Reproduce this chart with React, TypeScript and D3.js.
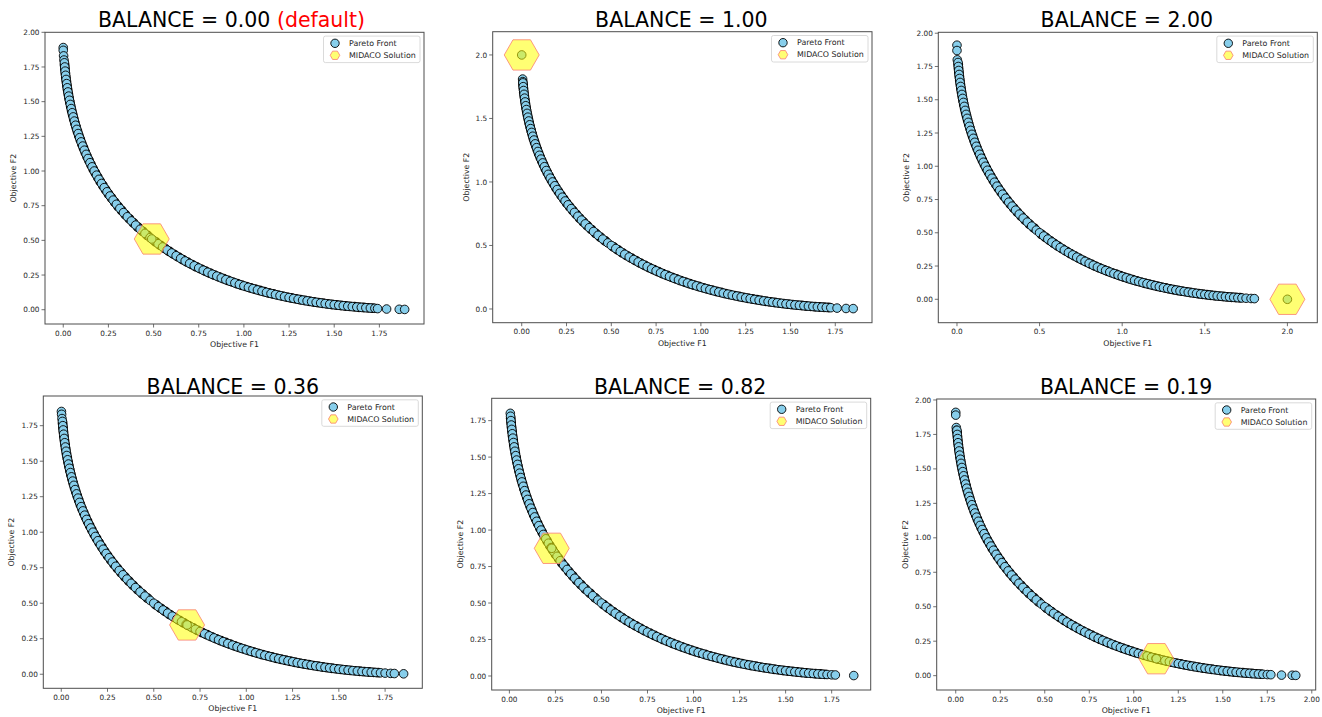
import React from "react";
import * as d3 from "d3";

// ---- Data ----
// Shared body of the Pareto front (Objective F1, Objective F2)
const frontSteep: [number, number][] = [
  [0.00641, 1.78], [0.00834, 1.75], [0.01055, 1.72], [0.01304, 1.69], [0.01583, 1.66],
  [0.01891, 1.63], [0.02229, 1.60], [0.02599, 1.57], [0.03001, 1.54], [0.03437, 1.51],
  [0.03907, 1.48], [0.04412, 1.45], [0.04954, 1.42], [0.05533, 1.39], [0.06151, 1.36],
  [0.0681, 1.33], [0.07509, 1.30], [0.08253, 1.27], [0.0904, 1.24], [0.09873, 1.21],
  [0.10754, 1.18], [0.11685, 1.15], [0.12667, 1.12], [0.13703, 1.09], [0.14796, 1.06],
  [0.15946, 1.03], [0.17157, 1.00], [0.18431, 0.97], [0.19773, 0.94], [0.21185, 0.91],
  [0.2267, 0.88], [0.24232, 0.85], [0.25875, 0.82], [0.27603, 0.79], [0.29423, 0.76],
  [0.31339, 0.73], [0.33356, 0.70], [0.35482, 0.67], [0.37725, 0.64], [0.40093, 0.61],
  [0.42593, 0.58], [0.45238, 0.55], [0.48039, 0.52],
];
const frontFlat: [number, number][] = [
  [0.5, 0.5], [0.525, 0.4756], [0.55, 0.45238], [0.575, 0.43023], [0.6, 0.4091],
  [0.625, 0.38893], [0.65, 0.36964], [0.675, 0.35121], [0.7, 0.33356], [0.725, 0.31668],
  [0.75, 0.3005], [0.775, 0.28502], [0.8, 0.27017], [0.825, 0.25594], [0.85, 0.24232],
  [0.875, 0.22925], [0.9, 0.21672], [0.925, 0.2047], [0.95, 0.19319], [0.975, 0.18215],
  [1.0, 0.17157], [1.025, 0.16144], [1.05, 0.15172], [1.075, 0.14242], [1.1, 0.13352],
  [1.125, 0.125], [1.15, 0.11685], [1.175, 0.10906], [1.2, 0.10161], [1.225, 0.0945],
  [1.25, 0.08772], [1.275, 0.08125], [1.3, 0.07509], [1.325, 0.06923], [1.35, 0.06366],
  [1.375, 0.05838], [1.4, 0.05336], [1.425, 0.04861], [1.45, 0.04412], [1.475, 0.03988],
  [1.5, 0.0359], [1.525, 0.03215], [1.55, 0.02864], [1.575, 0.02535], [1.6, 0.02229],
  [1.625, 0.01945], [1.65, 0.01682], [1.675, 0.0144], [1.7, 0.01218], [1.725, 0.01016],
];
// Denser archive points sitting underneath (drawn first)
const frontDenseSteep: [number, number][] = [
  [0.0074, 1.765], [0.0094, 1.735], [0.0118, 1.705], [0.0144, 1.675], [0.0174, 1.645],
  [0.0206, 1.615], [0.0241, 1.585], [0.028, 1.555], [0.0322, 1.525], [0.0367, 1.495],
  [0.0416, 1.465], [0.0468, 1.435], [0.0524, 1.405], [0.0584, 1.375], [0.0648, 1.345],
  [0.0716, 1.315], [0.0788, 1.285], [0.0865, 1.255], [0.0946, 1.225], [0.1031, 1.195],
  [0.1122, 1.165], [0.1218, 1.135], [0.1319, 1.105], [0.1425, 1.075], [0.1537, 1.045],
  [0.1655, 1.015], [0.1779, 0.985], [0.191, 0.955], [0.2048, 0.925], [0.2193, 0.895],
  [0.2345, 0.865], [0.2505, 0.835], [0.2674, 0.805], [0.2851, 0.775], [0.3038, 0.745],
  [0.3235, 0.715], [0.3442, 0.685], [0.366, 0.655], [0.3891, 0.625], [0.4134, 0.595],
  [0.4392, 0.565], [0.4664, 0.535],
];
const frontDenseFlat: [number, number][] = [
  [0.5125, 0.4878], [0.5375, 0.464], [0.5625, 0.4413], [0.5875, 0.4197], [0.6125, 0.399],
  [0.6375, 0.3793], [0.6625, 0.3604], [0.6875, 0.3424], [0.7125, 0.3251], [0.7375, 0.3086],
  [0.7625, 0.2928], [0.7875, 0.2776], [0.8125, 0.2631], [0.8375, 0.2491], [0.8625, 0.2358],
  [0.8875, 0.223], [0.9125, 0.2107], [0.9375, 0.1989], [0.9625, 0.1877], [0.9875, 0.1769],
  [1.0125, 0.1665], [1.0375, 0.1566], [1.0625, 0.1471], [1.0875, 0.138], [1.1125, 0.1293],
  [1.1375, 0.1209], [1.1625, 0.113], [1.1875, 0.1053], [1.2125, 0.0981], [1.2375, 0.0911],
  [1.2625, 0.0845], [1.2875, 0.0782], [1.3125, 0.0722], [1.3375, 0.0664], [1.3625, 0.061],
  [1.3875, 0.0559], [1.4125, 0.051], [1.4375, 0.0464], [1.4625, 0.042], [1.4875, 0.0379],
  [1.5125, 0.034], [1.5375, 0.0304], [1.5625, 0.027], [1.5875, 0.0238], [1.6125, 0.0209],
  [1.6375, 0.0181], [1.6625, 0.0156], [1.6875, 0.0133], [1.7125, 0.0112],
];

// Per-panel ends of the front
const endsP1: [number, number][] = [[0.0, 1.89], [0.0, 1.87], [0.002, 1.83], [0.004, 1.8], [1.74, 0.008], [1.79, 0.005], [1.86, 0.003], [1.89, 0.002]];
const endsP2: [number, number][] = [[0.005, 1.81], [0.006, 1.79], [1.76, 0.007], [1.81, 0.004], [1.85, 0.003]];
const endsP3: [number, number][] = [[0.0, 1.91], [0.0, 1.87], [0.002, 1.8], [1.75, 0.008], [1.78, 0.006], [1.8, 0.005]];
const endsP4: [number, number][] = [[0.001, 1.85], [0.002, 1.83], [0.004, 1.8], [1.75, 0.008], [1.78, 0.006], [1.8, 0.005], [1.85, 0.003]];
const endsP5: [number, number][] = [[0.005, 1.8], [1.75, 0.008], [1.77, 0.007], [1.87, 0.003]];
const endsP6: [number, number][] = [[0.0, 1.91], [0.0, 1.89], [0.003, 1.8], [0.004, 1.78], [1.75, 0.008], [1.77, 0.007], [1.83, 0.004], [1.89, 0.003], [1.91, 0.002]];

// MIDACO solutions
const solutions: [number, number][] = [[0.49, 0.51], [0.0, 2.0], [2.0, 0.0], [0.68, 0.347], [0.23, 0.875], [1.127, 0.123]];
const balances = ["0.00", "1.00", "2.00", "0.36", "0.82", "0.19"];

// Tick values
const ticks025to175 = [0, 0.25, 0.5, 0.75, 1.0, 1.25, 1.5, 1.75];
const ticks025to200 = [0, 0.25, 0.5, 0.75, 1.0, 1.25, 1.5, 1.75, 2.0];
const ticks05to20 = [0, 0.5, 1.0, 1.5, 2.0];

const legendLabels = ["Pareto Front", "MIDACO Solution"];

const endsList = [endsP1, endsP2, endsP3, endsP4, endsP5, endsP6];

type PanelCfg = {
  l: number; t: number; r: number; b: number;
  xd: [number, number]; yd: [number, number];
  xt: number[]; yt: number[]; xdec: number; ydec: number;
  titleY: number; titleDx: number;
};

const cfgs: PanelCfg[] = [
  { l: 45, t: 32.3, r: 424, b: 324, xd: [-0.101, 1.997], yd: [-0.103, 2.0], xt: ticks025to175, yt: ticks025to200, xdec: 2, ydec: 2, titleY: 27.3, titleDx: -3 },
  { l: 492.7, t: 31.7, r: 872, b: 322.7, xd: [-0.162, 1.955], yd: [-0.108, 2.183], xt: ticks025to175, yt: ticks05to20, xdec: 2, ydec: 1, titleY: 27.3, titleDx: -1 },
  { l: 938.3, t: 32.3, r: 1317.3, b: 322.7, xd: [-0.113, 2.181], yd: [-0.176, 2.007], xt: ticks05to20, yt: ticks025to200, xdec: 1, ydec: 2, titleY: 27.3, titleDx: -1 },
  { l: 43.3, t: 396, r: 422.3, b: 688.3, xd: [-0.097, 1.951], yd: [-0.099, 1.959], xt: ticks025to175, yt: ticks025to175, xdec: 2, ydec: 2, titleY: 394, titleDx: 0 },
  { l: 491.7, t: 398.3, r: 870.7, b: 690, xd: [-0.096, 1.962], yd: [-0.096, 1.903], xt: ticks025to175, yt: ticks025to175, xdec: 2, ydec: 2, titleY: 394, titleDx: -1 },
  { l: 936.7, t: 399, r: 1315.7, b: 690, xd: [-0.107, 2.022], yd: [-0.104, 2.007], xt: ticks025to200, yt: ticks025to200, xdec: 2, ydec: 2, titleY: 394, titleDx: 0 },
];

function hexPath(cx: number, cy: number, R: number) {
  const pts: string[] = [];
  for (let k = 0; k < 6; k++) {
    const a = (Math.PI / 3) * k;
    pts.push(`${(cx + R * Math.cos(a)).toFixed(2)},${(cy + R * Math.sin(a)).toFixed(2)}`);
  }
  return "M" + pts.join("L") + "Z";
}

const BLUE = "#87CEEB";
const HEX_FILL = "#FFFF00";
const HEX_EDGE = "#FA7F6F";
const TXT = "#262626";
const SPINE = "#4d4d4d";
const R_PT = 4.3;

function Panel({ idx }: { idx: number }) {
  const c = cfgs[idx];
  const x = d3.scaleLinear().domain(c.xd).range([c.l, c.r]);
  const y = d3.scaleLinear().domain(c.yd).range([c.b, c.t]);
  const ends = endsList[idx];
  const tops = ends.filter((d) => d[1] > 1);
  const tails = ends.filter((d) => d[1] <= 1);
  const sol = solutions[idx];
  const under: [number, number][] = [...frontDenseSteep, ...frontDenseFlat];
  const pts: [number, number][] = [...tops, ...frontSteep, ...frontFlat, ...tails, sol];
  const fx = d3.format(`.${c.xdec}f`);
  const fy = d3.format(`.${c.ydec}f`);
  const clipId = `clip${idx}`;
  const cxm = (c.l + c.r) / 2;
  const cym = (c.t + c.b) / 2;
  const yLabOff = c.ydec === 2 ? 31.5 : 26.7;
  const lgW = 96.5, lgH = 26.5;
  const lgL = c.r - 4 - lgW, lgT = c.t + 3.8;
  return (
    <g>
      <defs>
        <clipPath id={clipId}>
          <rect x={c.l} y={c.t} width={c.r - c.l} height={c.b - c.t} />
        </clipPath>
      </defs>
      <text x={cxm + c.titleDx} y={c.titleY} textAnchor="middle" fontSize={20.5} fill="#000">
        {`BALANCE = ${balances[idx]}`}
        {idx === 0 ? <tspan fill="#ff0000">{" (default)"}</tspan> : null}
      </text>
      <g clipPath={`url(#${clipId})`}>
        {under.map((d, i) => (
          <circle key={"u" + i} cx={x(d[0])} cy={y(d[1])} r={R_PT} fill={BLUE} stroke="#000" strokeWidth={1.3} />
        ))}
        {pts.map((d, i) => (
          <circle key={i} cx={x(d[0])} cy={y(d[1])} r={R_PT} fill={BLUE} stroke="#000" strokeWidth={0.9} />
        ))}
        <path d={hexPath(x(sol[0]), y(sol[1]), 17.5)} fill={HEX_FILL} fillOpacity={0.55} stroke={HEX_EDGE} strokeOpacity={0.8} strokeWidth={1} />
      </g>
      <rect x={c.l} y={c.t} width={c.r - c.l} height={c.b - c.t} fill="none" stroke={SPINE} strokeWidth={1} />
      {c.xt.map((v, i) => (
        <g key={"x" + i}>
          <line x1={x(v)} x2={x(v)} y1={c.b} y2={c.b + 3.5} stroke={SPINE} strokeWidth={0.8} />
          <text x={x(v)} y={c.b + 11.5} textAnchor="middle" fontSize={7.3} fill={TXT}>{fx(v)}</text>
        </g>
      ))}
      {c.yt.map((v, i) => (
        <g key={"y" + i}>
          <line x1={c.l - 3.5} x2={c.l} y1={y(v)} y2={y(v)} stroke={SPINE} strokeWidth={0.8} />
          <text x={c.l - 5.5} y={y(v) + 2.6} textAnchor="end" fontSize={7.3} fill={TXT}>{fy(v)}</text>
        </g>
      ))}
      <text x={cxm} y={c.b + 23} textAnchor="middle" fontSize={7.8} fill={TXT}>Objective F1</text>
      <text transform={`translate(${c.l - yLabOff},${cym}) rotate(-90)`} textAnchor="middle" dominantBaseline="central" fontSize={7.8} fill={TXT}>Objective F2</text>
      <g>
        <rect x={lgL} y={lgT} width={lgW} height={lgH} rx={2} fill="#fff" fillOpacity={0.8} stroke="#d0d0d0" strokeWidth={0.8} />
        <circle cx={lgL + 11.5} cy={lgT + 7.2} r={4.2} fill={BLUE} stroke="#000" strokeWidth={0.9} />
        <path d={hexPath(lgL + 11.5, lgT + 19.2, 4.8)} fill={HEX_FILL} fillOpacity={0.55} stroke={HEX_EDGE} strokeOpacity={0.8} strokeWidth={1} />
        <text x={lgL + 25.5} y={lgT + 9.9} fontSize={7.9} fill={TXT}>{legendLabels[0]}</text>
        <text x={lgL + 25.5} y={lgT + 21.9} fontSize={7.9} fill={TXT}>{legendLabels[1]}</text>
      </g>
    </g>
  );
}

export default function App() {
  return (
    <svg width={1322} height={717} style={{ position: "absolute", left: 0, top: 0, background: "#fff" }} fontFamily="'DejaVu Sans', sans-serif">
      <rect x={0} y={0} width={1322} height={717} fill="#fff" />
      {cfgs.map((_, i) => <Panel key={i} idx={i} />)}
    </svg>
  );
}
